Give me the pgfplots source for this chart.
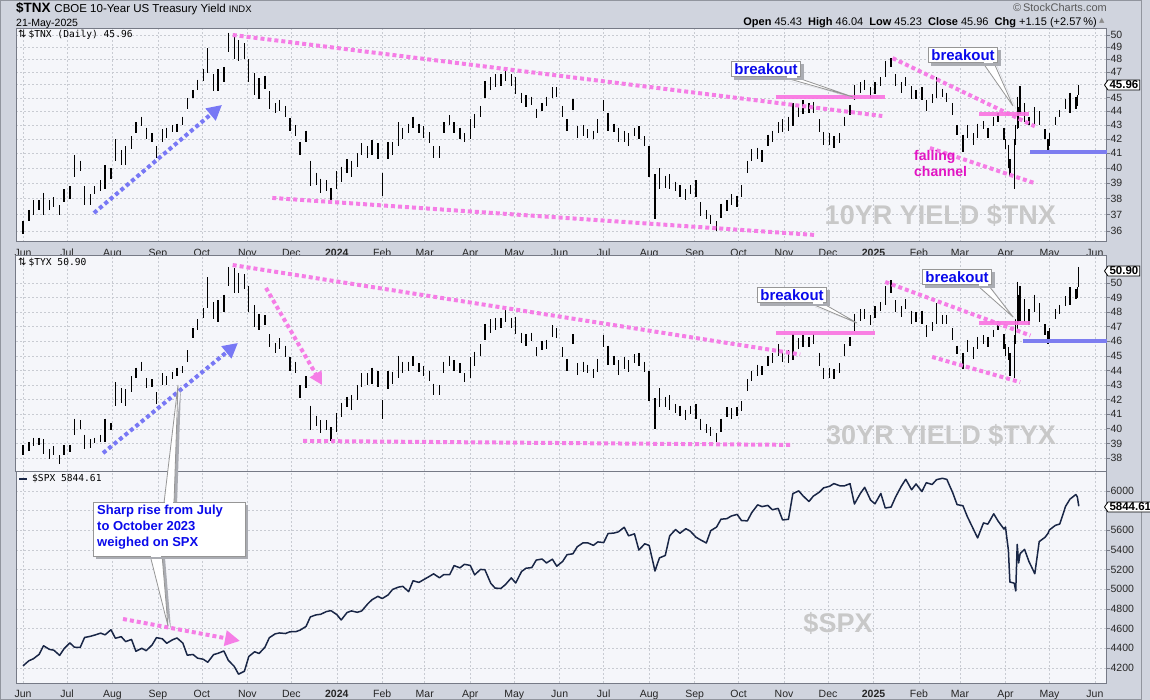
\documentclass[border=0pt]{standalone}
\usepackage{fontspec}
\setmainfont{Liberation Sans}
\newfontfamily\monof{DejaVu Sans Mono}
\newfontfamily\djv{DejaVu Sans}
\usepackage{pgfplots}
\pgfplotsset{compat=1.18}
\usepackage{pgfplotstable}
\usetikzlibrary{arrows.meta,shapes.symbols,shadows}

\definecolor{outerbg}{RGB}{208,212,222}
\definecolor{plotbg}{RGB}{245,246,250}
\definecolor{framec}{RGB}{118,122,134}
\definecolor{gridc}{RGB}{200,203,210}
\definecolor{pinkd}{RGB}{245,125,230}
\definecolor{pinks}{RGB}{250,115,225}
\definecolor{blued}{RGB}{120,120,245}
\definecolor{blues}{RGB}{125,125,240}
\definecolor{magt}{RGB}{225,20,195}
\definecolor{cblue}{RGB}{10,10,235}
\definecolor{navy}{RGB}{25,38,70}
\definecolor{wm}{RGB}{200,200,200}
\definecolor{boxgray}{RGB}{150,150,150}
\definecolor{shad}{RGB}{170,172,178}

\pgfplotstableread{
d tlo thi ylo yhi spx
0 35.8 36.6 38.2 38.9 4221
4 36.6 37.3 38.5 39.1 4273
7 37.0 37.9 38.8 39.4 4293
11 37.3 37.9 38.9 39.4 4338
14 37.0 38.4 38.3 39.3 4426
18 37.3 37.9 37.9 38.6 4389
21 37.5 38.1 38.2 38.8 4381
25 37.0 37.6 37.6 38.2 4328
28 37.8 38.6 38.2 38.9 4396
32 38.0 38.8 38.4 38.9 4455
35 39.4 40.9 39.6 40.7 4411
39 39.8 40.5 40.0 40.6 4409
42 37.6 38.8 38.6 39.6 4510
46 37.6 38.3 38.7 39.3 4522
49 38.3 38.8 39.0 39.4 4535
53 38.5 39.2 39.1 39.6 4554
56 38.6 40.2 39.1 40.7 4537
60 39.3 40.0 39.9 40.4 4589
63 40.5 42.0 41.6 43.2 4502
67 40.2 41.2 41.8 42.8 4518
70 40.2 41.5 41.6 42.7 4468
74 41.3 42.2 42.5 43.6 4490
77 42.4 43.2 43.5 44.2 4370
81 42.9 43.6 44.0 44.6 4400
84 42.0 42.8 42.8 43.5 4376
88 41.8 42.4 42.9 43.4 4433
91 40.7 41.5 41.7 42.5 4508
95 41.8 42.7 43.0 43.8 4497
98 42.1 42.8 43.0 43.6 4451
102 42.5 43.0 43.4 43.9 4487
105 42.5 43.1 43.6 44.2 4505
109 43.0 43.6 43.8 44.3 4453
112 44.2 45.0 44.6 45.4 4330
116 45.0 45.6 46.2 46.9 4337
119 45.6 46.4 46.8 47.5 4300
123 46.3 47.2 47.6 48.3 4288
126 46.9 48.9 48.3 50.4 4258
130 45.5 46.8 47.5 48.7 4336
133 45.5 47.2 47.3 48.8 4349
137 46.2 47.4 48.0 49.2 4373
140 48.6 50.2 49.8 51.1 4278
144 48.0 50.0 49.3 51.0 4217
147 47.9 49.6 49.3 50.7 4137
151 48.0 49.3 49.6 50.6 4167
154 46.2 48.0 48.0 49.8 4317
158 45.2 46.9 47.0 48.5 4365
161 44.9 46.5 46.8 47.9 4347
165 45.7 46.7 47.1 47.8 4411
168 44.2 45.5 45.6 46.5 4508
172 43.9 44.6 45.2 45.9 4547
175 44.0 44.8 45.5 46.2 4556
179 43.6 44.4 44.9 45.7 4550
182 42.6 43.5 44.0 44.9 4568
186 42.2 43.0 43.8 44.6 4569
189 40.9 41.8 42.1 43.0 4585
193 41.8 42.6 42.8 43.6 4622
196 38.8 40.5 39.9 41.6 4720
200 38.9 39.7 40.2 40.9 4740
203 38.4 39.3 39.7 40.6 4746
207 38.5 39.2 39.9 40.6 4774
210 37.8 38.7 39.2 40.1 4783
214 38.6 39.8 39.8 41.1 4743
217 39.1 40.1 40.8 41.8 4688
221 39.7 40.6 41.5 42.2 4764
224 39.4 40.5 41.3 42.3 4780
228 40.1 41.0 42.0 43.0 4766
231 40.9 41.7 42.9 43.8 4780
235 40.7 41.5 43.0 43.8 4850
238 40.9 41.9 43.1 44.2 4894
242 40.6 41.7 42.9 44.0 4928
245 38.2 39.7 40.7 42.0 4906
249 40.6 41.8 42.7 44.0 4943
252 40.9 41.8 43.1 43.9 4998
256 41.5 43.2 43.5 45.0 5022
259 42.0 42.8 43.8 44.6 5030
263 42.4 43.1 44.0 44.6 4976
266 42.8 43.6 44.3 45.0 5087
270 42.4 43.1 43.9 44.5 5070
273 42.1 42.9 43.6 44.3 5096
277 41.7 42.5 43.3 44.0 5130
280 40.7 41.5 42.3 43.1 5157
284 40.7 41.5 42.3 43.0 5117
287 42.4 43.2 43.8 44.6 5150
291 43.0 43.7 44.3 45.0 5149
294 42.4 43.2 44.0 44.7 5241
298 42.0 42.8 43.8 44.5 5218
301 41.8 42.4 43.2 43.8 5254
305 42.0 43.4 43.5 44.9 5243
308 42.8 43.8 44.3 45.3 5147
312 43.6 44.4 45.0 45.8 5202
315 45.0 46.3 46.1 47.2 5199
319 45.6 46.6 46.6 47.5 5061
322 45.8 46.8 46.8 47.6 5011
326 45.9 46.8 46.9 47.6 5010
329 46.3 47.4 47.3 48.3 5048
333 45.9 46.8 46.9 47.6 5116
336 45.3 46.6 46.5 47.7 5064
340 44.6 45.4 45.9 46.6 5181
343 44.3 45.2 45.7 46.5 5214
347 44.5 45.1 46.0 46.6 5221
350 43.5 44.2 45.0 45.6 5297
354 44.0 44.6 45.4 46.0 5308
357 44.4 45.1 45.5 46.1 5268
361 45.0 45.8 46.3 47.1 5306
364 45.1 45.8 46.2 46.9 5235
368 43.6 44.4 44.9 45.6 5283
371 42.6 43.4 44.0 44.8 5352
375 44.1 44.9 45.8 46.5 5361
378 42.1 42.9 43.7 44.5 5433
382 42.2 43.0 43.9 44.6 5473
385 42.1 42.7 43.8 44.4 5473
389 42.0 42.6 43.5 44.1 5447
392 42.4 43.4 43.9 44.8 5482
396 44.0 44.8 45.6 46.4 5475
399 42.6 43.9 44.4 45.7 5567
403 42.5 43.1 44.4 45.0 5572
406 41.8 42.8 43.7 44.7 5584
410 41.8 42.6 44.1 44.9 5631
413 41.5 42.4 43.9 44.7 5544
417 42.2 42.8 44.5 45.1 5564
420 42.0 42.9 44.3 45.2 5399
424 41.5 42.2 43.9 44.6 5463
427 39.4 41.5 41.9 44.0 5446
431 36.7 39.6 40.0 42.1 5186
434 38.6 40.0 41.5 42.8 5319
438 38.7 39.5 41.5 42.2 5344
441 38.6 39.6 41.3 42.3 5543
445 38.5 39.1 41.1 41.7 5608
448 38.1 38.9 40.9 41.6 5570
452 37.9 38.6 40.6 41.3 5616
455 38.3 38.9 41.0 41.6 5592
459 38.1 39.2 40.7 41.7 5529
462 36.9 37.8 39.9 40.7 5503
466 36.7 37.3 39.7 40.3 5471
469 36.4 37.0 39.5 40.1 5596
473 36.0 36.6 39.1 39.7 5633
476 36.8 37.7 39.8 40.7 5713
480 37.2 37.9 40.8 41.5 5718
483 37.6 38.3 40.7 41.4 5745
487 37.5 38.2 40.9 41.5 5762
490 38.1 38.9 41.2 41.9 5699
494 39.7 40.5 42.6 43.4 5696
497 40.5 41.3 43.3 44.0 5780
501 40.6 41.4 43.6 44.4 5859
504 40.4 41.2 43.7 44.3 5841
508 41.5 42.3 44.3 45.0 5853
511 41.8 42.6 44.5 45.2 5809
515 42.4 43.2 45.0 45.8 5823
518 42.5 43.4 44.6 45.4 5705
522 42.6 43.6 44.5 45.4 5712
525 42.9 44.6 44.7 46.5 5973
529 43.6 44.4 45.5 46.2 6001
532 43.8 44.8 45.6 46.4 5949
536 43.9 44.6 45.6 46.3 5893
539 43.9 44.7 45.8 46.5 5948
543 42.5 43.4 44.3 45.2 5987
546 41.6 42.5 43.4 44.2 6032
550 41.6 42.4 43.5 44.2 6047
553 41.4 42.2 43.4 44.1 6075
557 41.7 42.4 43.8 44.5 6053
560 42.9 43.6 45.0 45.8 6051
564 43.7 44.5 45.7 46.3 6074
567 44.8 46.0 46.7 47.9 5867
571 45.4 46.2 47.4 48.2 5974
574 45.6 46.4 47.5 48.2 6037
578 45.0 45.8 47.1 47.8 5907
581 45.3 46.2 47.6 48.4 5869
585 45.9 46.6 48.1 48.7 5975
588 46.6 47.9 48.5 49.8 5827
592 47.4 48.1 49.3 50.2 5836
595 45.9 46.8 48.0 48.8 5937
599 45.4 46.2 47.7 48.4 6049
602 45.9 46.6 48.2 48.9 6119
606 44.9 45.9 47.2 48.1 6012
609 44.9 45.6 47.3 48.0 6071
613 44.8 45.8 47.2 48.1 5994
616 44.0 44.8 46.3 47.1 6084
620 44.6 45.3 46.7 47.3 6066
623 45.0 46.6 47.2 48.6 6115
627 45.1 45.7 47.2 47.8 6129
630 44.7 45.4 47.2 47.8 6118
634 43.7 44.6 46.1 46.9 5983
637 42.3 43.0 45.1 45.7 5861
641 41.1 42.3 44.1 45.2 5850
644 42.1 43.0 45.3 46.1 5739
648 41.6 42.4 44.8 45.6 5615
651 42.1 43.1 45.5 46.3 5522
655 42.7 43.3 45.8 46.4 5675
658 42.1 42.8 45.6 46.3 5663
662 42.9 43.6 46.3 46.8 5768
665 43.2 43.9 46.8 47.4 5693
669 41.9 42.8 45.5 46.5 5612
670 41.3 42.0 45.0 45.8 5633
672 40.0 41.6 44.7 45.6 5397
673 39.5 40.6 43.6 45.2 5074
676 38.6 42.0 43.5 46.4 5062
677 41.6 43.0 45.8 47.5 4983
678 42.7 45.1 46.8 50.1 5457
679 42.8 44.3 47.3 49.2 5268
680 43.8 45.9 47.4 49.8 5363
683 43.2 44.6 47.3 48.9 5406
686 43.0 43.6 47.1 48.2 5283
690 43.1 44.3 48.0 49.2 5158
693 43.0 44.0 47.3 48.6 5485
697 42.0 42.7 46.4 47.2 5529
699 41.2 42.0 45.8 46.7 5569
700 41.5 42.4 46.1 46.9 5604
704 43.0 43.6 47.5 48.2 5650
707 43.6 44.1 47.9 48.5 5664
711 44.2 44.9 48.4 49.1 5844
714 43.9 45.4 48.5 49.7 5917
718 44.2 45.1 48.9 49.6 5964
719 44.4 45.2 49.0 49.7 5940
720 45.2 46.0 49.7 51.1 5845
}\data

\pgfplotsset{
  panel/.style={
    scale only axis, width=1091pt,
    xmin=-4.77, xmax=739.2,
    axis background/.style={fill=plotbg},
    axis line style={draw=framec, line width=1pt},
    grid=major,
    major grid style={draw=gridc, dash pattern=on 2pt off 2pt, line width=0.6pt},
    xtick={0,30,61,92,122,153,183,214,245,274,305,335,366,396,427,458,488,519,549,580,611,639,670,700,731},
    xtick style={draw=none},
    ytick pos=right, yticklabel pos=right,
    ytick style={draw=framec, line width=0.8pt},
    tick align=outside, major tick length=3pt,
    yticklabel style={font=\fontsize{10.5}{12}\selectfont, text=black!85, anchor=west, inner sep=0pt, xshift=0.5pt},
    xticklabel style={font=\fontsize{10.5}{12}\selectfont, text=black!85, anchor=north, inner sep=0pt, yshift=-4pt},
  },
  xlab/.style={xticklabels={Jun,Jul,Aug,Sep,Oct,Nov,Dec,\textbf{2024},Feb,Mar,Apr,May,Jun,Jul,Aug,Sep,Oct,Nov,Dec,\textbf{2025},Feb,Mar,Apr,May,Jun}},
  bars/.style={draw=none, mark=none, forget plot, error bars/.cd, y dir=both, y explicit, error mark=none, error bar style={draw=black, solid, line width=1.3pt}},
  pdot/.style={pinkd, line width=4pt, dash pattern=on 4pt off 3pt, forget plot},
  bdot/.style={blued, line width=4pt, dash pattern=on 4pt off 3pt, forget plot},
  psol/.style={pinks, line width=4pt, opacity=0.9, forget plot},
  bsol/.style={blues, line width=4pt, forget plot},
}

\begin{document}
\begin{tikzpicture}
\path[use as bounding box] (0,0) rectangle (1150pt,-700pt);
\fill[outerbg] (0,0) rectangle (1150pt,-700pt);

% ---------- panel 1: TNX ----------
\begin{axis}[panel, xlab, at={(16pt,-29pt)}, anchor=north west, height=213pt,
  ymode=log, ymin=35.34, ymax=50.51,
  ytick={36,37,38,39,40,41,42,43,44,45,46,47,48,49,50},
  yticklabels={36,37,38,39,40,41,42,43,44,45,{},47,48,49,50},
  minor ytick={}]
\addplot[bars] table[x=d, y=thi, y error plus expr=0, y error minus expr=\thisrow{thi}-\thisrow{tlo}] {\data};
\addplot[bdot, -{Triangle[length=15pt,width=15pt]}] coordinates {(48.4,37.1) (135.7,44.47)};
\addplot[pdot] coordinates {(143,50.0) (586,43.65)};
\addplot[pdot] coordinates {(170,38.05) (540,35.76)};
\addplot[psol] coordinates {(513.5,45.1) (587.8,45.1)};
\addplot[pdot] coordinates {(593,48.1) (690,42.9)};
\addplot[pdot] coordinates {(618.5,41.37) (690,39.0)};
\addplot[psol] coordinates {(652,43.8) (686,43.8)};
\addplot[bsol] coordinates {(687,41.1) (739.2,41.1)};
\end{axis}

% ---------- panel 2: TYX ----------
\begin{axis}[panel, xticklabel={}, at={(16pt,-256pt)}, anchor=north west, height=215pt,
  ymin=37.11, ymax=51.85,
  ytick={38,39,40,41,42,43,44,45,46,47,48,49,50},
  yticklabels={38,39,40,41,42,43,44,45,46,47,48,49,50}]
\addplot[bars] table[x=d, y=yhi, y error plus expr=0, y error minus expr=\thisrow{yhi}-\thisrow{ylo}] {\data};
\addplot[bdot, -{Triangle[length=15pt,width=15pt]}] coordinates {(54.6,38.34) (146.6,45.89)};
\addplot[pdot] coordinates {(143,51.23) (530,45.1)};
\addplot[pdot, -{Triangle[length=13pt,width=13pt]}] coordinates {(165.7,49.66) (204,43.0)};
\addplot[pdot] coordinates {(191,39.17) (525,38.9)};
\addplot[psol] coordinates {(513.5,46.6) (581,46.6)};
\addplot[pdot] coordinates {(588,50.07) (687,46.4)};
\addplot[psol] coordinates {(652,47.26) (687,47.26)};
\addplot[pdot] coordinates {(620,44.93) (680,43.2)};
\addplot[bsol] coordinates {(682,46.0) (739.2,46.0)};
\end{axis}

% ---------- panel 3: SPX ----------
\begin{axis}[panel, xlab, at={(16pt,-471pt)}, anchor=north west, height=212pt,
  ymin=4047, ymax=6203,
  ytick={4200,4400,4600,4800,5000,5200,5400,5600,5800,6000},
  yticklabels={4200,4400,4600,4800,5000,5200,5400,5600,{},6000}]
\addplot[navy, line width=1.5pt, line join=round] table[x=d, y=spx] {\data};
\addplot[pdot, -{Triangle[length=15pt,width=15pt]}] coordinates {(68.2,4698) (148,4475)};
\end{axis}

% ---------- annotations (pixel coordinates) ----------
\begin{scope}[x=1pt,y=-1pt]
\draw[draw=framec!80, line width=1pt] (0.5,0.5) rectangle (1141,699.5);
% header
\node[anchor=base west, inner sep=0pt] at (16,13) {\fontsize{13.5}{14}\selectfont\bfseries \$TNX\ \fontsize{11.5}{12}\selectfont\mdseries CBOE 10-Year US Treasury Yield \fontsize{9.5}{10}\selectfont INDX};
\node[anchor=base west, inner sep=0pt] at (16,27) {\fontsize{10.5}{12}\selectfont 21-May-2025};
\node[anchor=base east, inner sep=0pt, text=black!65] at (1107,12) {\fontsize{11}{12}\selectfont \textcopyright\,StockCharts.com};
\node[anchor=base east, inner sep=0pt] at (1097,26) {\fontsize{11}{12}\selectfont \textbf{Open} 45.43\ \ \textbf{High} 46.04\ \ \textbf{Low} 45.23\ \ \textbf{Close} 45.96\ \ \textbf{Chg} +1.15 (+2.57\,\%)};
\node[anchor=west, inner sep=0pt, text=black!45] at (1099,21) {\djv\fontsize{7}{8}\selectfont ▲};
% legends
\node[anchor=west, inner sep=0pt] at (18,35) {\djv\fontsize{10}{10}\selectfont ⇅\hspace{2pt}\monof\fontsize{9.6}{10}\selectfont \$TNX (Daily) 45.96};
\node[anchor=west, inner sep=0pt] at (18,263) {\djv\fontsize{10}{10}\selectfont ⇅\hspace{2pt}\monof\fontsize{9.6}{10}\selectfont \$TYX 50.90};
\draw[navy, line width=2.5pt] (19,479) -- (27,479);
\node[anchor=west, inner sep=0pt] at (32,479) {\monof\fontsize{9.6}{10}\selectfont \$SPX 5844.61};
% watermarks
\node[anchor=east, inner sep=0pt, text=wm] at (1056,215) {\fontsize{27}{28}\selectfont\bfseries 10YR YIELD \$TNX};
\node[anchor=east, inner sep=0pt, text=wm] at (1056,435) {\fontsize{27}{28}\selectfont\bfseries 30YR YIELD \$TYX};
\node[inner sep=0pt, text=wm] at (838,623) {\fontsize{27}{28}\selectfont\bfseries \$SPX};
% value tags
\tikzset{tag/.style={signal, signal to=west, signal pointer angle=110, draw=black, line width=0.8pt, fill=white, inner xsep=1.5pt, inner ysep=1pt, anchor=west, font=\bfseries\fontsize{11.5}{12}\selectfont}}
\node[tag] at (1104,85) {45.96};
\node[tag] at (1104,271) {50.90};
\node[tag] at (1104,507) {5844.61};
% falling channel
\node[anchor=north west, inner sep=0pt, align=left, text=magt, font=\bfseries\fontsize{14}{16}\selectfont] at (914,150) {falling\\channel};
% callouts
\tikzset{cbox/.style={draw=boxgray, fill=white, line width=0.8pt, inner xsep=3pt, inner ysep=2pt, text=cblue, font=\bfseries\fontsize{15}{16}\selectfont, drop shadow={shadow xshift=3pt, shadow yshift=-3pt, fill=shad, opacity=1}}}
\newcommand\callout[6]{% center x,y ; base x1,x2,ybase ; tip
  \fill[shad] (#3+3,#5+3) -- (#6) ++(3,3) -- (#4+3,#5+3) -- cycle;
  \filldraw[fill=white, draw=boxgray, line width=0.8pt] (#3,#5) -- (#6) -- (#4,#5);
  \node[cbox] at (#1,#2) {breakout};
  \fill[white] (#3+0.6,#5-1.5) rectangle (#4-0.6,#5+0.2);
}
\callout{766}{69}{786}{798}{78}{853,97}
\callout{963}{55}{983}{994}{63}{1013,106}
\callout{792}{295}{812}{824}{304}{857,323}
\callout{957}{277}{978}{989}{286}{1013,317}
% big callout
\fill[shad] (167,505) -- (181,388) -- (177,505) -- cycle;
\fill[shad] (153,558) -- (171,629) -- (165,558) -- cycle;
\filldraw[fill=white, draw=boxgray, line width=0.8pt] (164,503) -- (178,385) -- (174,503);
\filldraw[fill=white, draw=boxgray, line width=0.8pt] (150,555) -- (168,626) -- (162,555);
\fill[shad] (96,505) rectangle (248,559);
\filldraw[fill=white, draw=boxgray, line width=0.8pt] (93,502) rectangle (245,556);
\fill[white] (164.6,501) rectangle (173.4,504);
\fill[white] (150.6,554) rectangle (161.4,557);
\node[anchor=north west, inner sep=0pt, align=left, text=cblue, font=\bfseries\fontsize{13}{16}\selectfont] at (97,505) {Sharp rise from July\\to October 2023\\weighed on SPX};
\end{scope}
\end{tikzpicture}
\end{document}
